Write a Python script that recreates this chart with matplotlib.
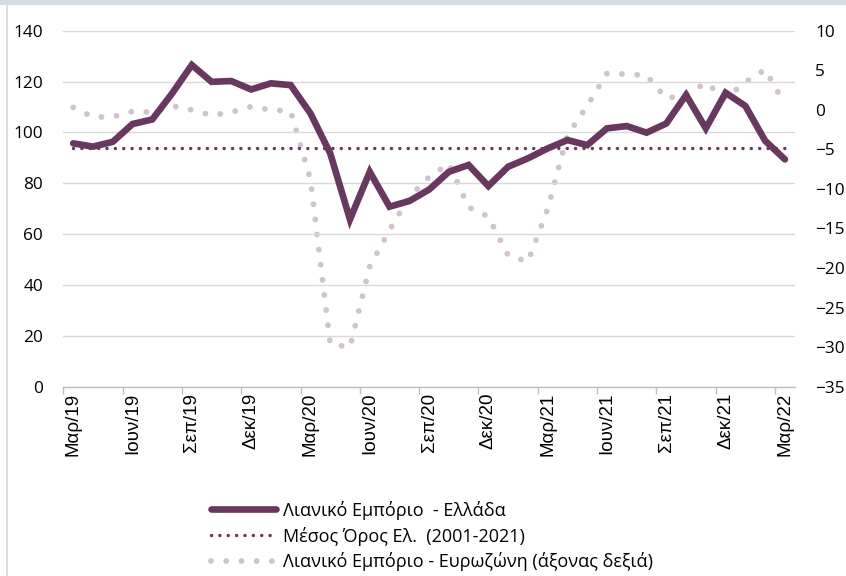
import matplotlib
matplotlib.use("Agg")
import matplotlib.pyplot as plt
from matplotlib.lines import Line2D
from matplotlib.patches import Rectangle
import numpy as np

# ---- data -------------------------------------------------------------
tick_labels = ['Μαρ/19', 'Ιουν/19', 'Σεπ/19', 'Δεκ/19', 'Μαρ/20', 'Ιουν/20',
               'Σεπ/20', 'Δεκ/20', 'Μαρ/21', 'Ιουν/21', 'Σεπ/21', 'Δεκ/21', 'Μαρ/22']

greece = [95.7, 94.4, 96.3, 103.3, 105.1, 115.3, 126.5, 119.9, 120.2, 116.9,
          119.3, 118.6, 107.5, 91.8, 65.8, 84.5, 70.8, 73.0, 77.5, 84.5,
          87.2, 78.9, 86.5, 89.8, 93.7, 97.0, 95.0, 101.6, 102.5, 99.9,
          103.5, 114.7, 101.6, 115.6, 110.4, 96.7, 89.4]

greece_mean = 93.7  # Μέσος Όρος Ελ. (2001-2021)

eurozone = [0.3, -0.9, -0.9, -0.2, -0.3, 0.5, 0.0, -0.7, -0.3, 0.4,
            0.0, -0.2, -8.8, -29.6, -30.0, -19.8, -15.2, -11.0, -8.5, -6.8,
            -12.3, -13.5, -18.4, -19.2, -12.5, -3.2, 0.5, 4.6, 4.5, 4.35,
            1.45, 1.9, 3.4, 1.45, 3.5, 5.1, 0.7]

labels = ['Λιανικό Εμπόριο  - Ελλάδα',
          'Μέσος Όρος Ελ.  (2001-2021)',
          'Λιανικό Εμπόριο - Ευρωζώνη (άξονας δεξιά)']

# ---- style ------------------------------------------------------------
C_MAIN = '#68385f'
C_EURO = '#d3c1d0'
C_GRID = '#d9d9d9'
C_AXIS = '#bfbfbf'
FONT_Y = ['Open Sans', 'DejaVu Sans']
FONT_X = ['Liberation Sans', 'DejaVu Sans']

n = len(greece)
x = np.arange(n)

fig = plt.figure(figsize=(8.46, 5.76), dpi=100)
W, H = 846, 576
ax = fig.add_axes([63.3 / W, 1 - 386.7 / H, (794.8 - 63.3) / W, (386.7 - 30.7) / H])
ax2 = ax.twinx()

# frame decorations of the original chart area
fig.patches.append(Rectangle((0, 1 - 4.5 / H), 1, 4.5 / H, transform=fig.transFigure,
                             facecolor='#d6dce5', edgecolor='none', zorder=0))
fig.add_artist(Line2D([6.5 / W, 6.5 / W], [0, 1 - 4.5 / H], transform=fig.transFigure,
                      color=C_GRID, lw=1.2))

# right axis series (behind)
ax2.plot(x, eurozone, color=C_EURO, lw=4.2, linestyle=(0, (0.01, 2.6)),
         dash_capstyle='round', label=labels[2])
ax2.set_ylim(-35, 10)
ax2.set_yticks(np.arange(-35, 11, 5))

# left axis series
ax.set_zorder(ax2.get_zorder() + 1)
ax.patch.set_visible(False)
ax.plot(x, [greece_mean] * n, color=C_MAIN, lw=2.5, linestyle=(0, (0.01, 2.4)),
        dash_capstyle='round', label=labels[1], zorder=3)
ax.plot(x, greece, color=C_MAIN, lw=4.8, solid_joinstyle='miter',
        solid_capstyle='round', label=labels[0], zorder=4)
ax.set_ylim(0, 140)
ax.set_yticks(np.arange(0, 141, 20))
ax.set_xlim(-0.5, n - 0.5)

ax.grid(axis='y', color=C_GRID, lw=1.0)
ax.set_axisbelow(True)

# x axis: labels at category centres, tick marks between categories
ax.set_xticks(np.arange(0, n, 3))
ax.set_xticklabels(tick_labels, rotation=90, fontfamily=FONT_X, fontsize=13.5)
ax.set_xticks(np.arange(-0.5, n - 1, 3), minor=True)
ax.tick_params(axis='x', which='major', length=0, pad=4.5)
ax.tick_params(axis='x', which='minor', length=5, width=1, color=C_AXIS, direction='out')

for s in ['left', 'right', 'top']:
    ax.spines[s].set_visible(False)
    ax2.spines[s].set_visible(False)
ax.spines['bottom'].set_color(C_AXIS)
ax.spines['bottom'].set_linewidth(1.0)
ax2.spines['bottom'].set_visible(False)

ax.tick_params(axis='y', length=0, pad=14.5)
ax2.tick_params(axis='y', length=0, pad=14.5)
for t in ax.get_yticklabels() + ax2.get_yticklabels():
    t.set_fontfamily(FONT_Y)
    t.set_fontsize(12.4)
    t.set_color('#000000')

# legend
h1, l1 = ax.get_legend_handles_labels()
h2, l2 = ax2.get_legend_handles_labels()
handles = [h1[1], h1[0], h2[0]]
leg_labels = [l1[1], l1[0], l2[0]]
fig.legend(handles, leg_labels, loc='center', bbox_to_anchor=(432 / W, 1 - 536 / H),
           frameon=False, prop={'family': FONT_Y, 'size': 13},
           handlelength=3.6, handletextpad=0.35, labelspacing=0.38, borderpad=0)

fig.savefig('out.png', dpi=100)
